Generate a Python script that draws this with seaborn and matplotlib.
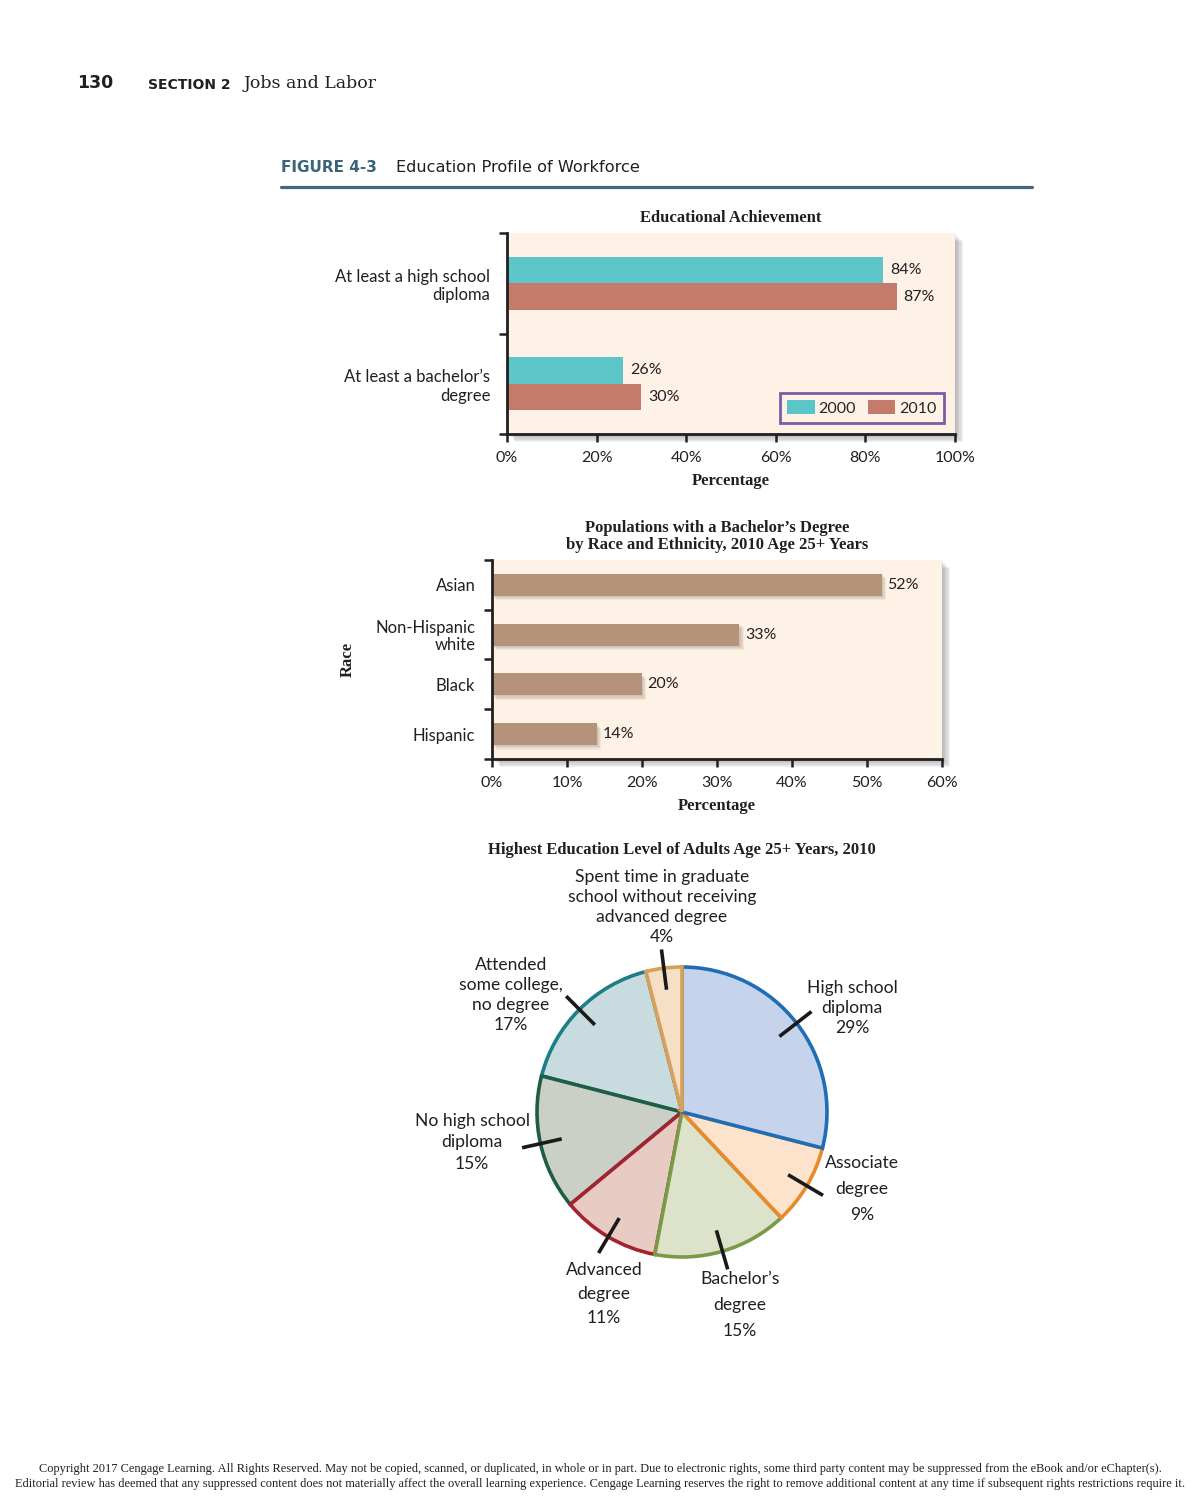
import matplotlib
matplotlib.use("Agg")
import matplotlib.pyplot as plt
import matplotlib.patheffects as pe
import numpy as np
import pandas as pd
import seaborn as sns

# === Données ===
niveaux = ["At least a high school\ndiploma", "At least a bachelor\u2019s\ndegree"]
annees = ["2000", "2010"]
pct_2000 = [84, 26]
pct_2010 = [87, 30]

races = ["Asian", "Non-Hispanic\nwhite", "Black", "Hispanic"]
pct_races = [52, 33, 20, 14]

pie_labels = ["High school\ndiploma\n29%", "Associate\ndegree\n9%", "Bachelor\u2019s\ndegree\n15%",
              "Advanced\ndegree\n11%", "No high school\ndiploma\n15%",
              "Attended\nsome college,\nno degree\n17%",
              "Spent time in graduate\nschool without receiving\nadvanced degree\n4%"]
pie_values = [29, 9, 15, 11, 15, 17, 4]

# === Style ===
sns.set_style("ticks")
plt.rcParams["font.family"] = ["Lato", "DejaVu Sans"]
TXT = "#231F20"
FOND = "#FEF1E6"
SERIF = "Liberation Serif"


def fx(x):
    return x / 1200


def fy(y):
    return 1 - y / 1500


def ombre(patch, dx=1.0, a=0.05, n=6, col="black"):
    # ombre portée douce : plusieurs couches décalées
    effets = [pe.SimplePatchShadow(offset=(dx * k, -dx * k), shadow_rgbFace=col, alpha=a) for k in range(n, 0, -1)]
    patch.set_path_effects(effets + [pe.Normal()])


def style_axe(ax):
    for s in ["top", "right"]:
        ax.spines[s].set_visible(False)
    for s in ["left", "bottom"]:
        ax.spines[s].set_linewidth(2.0)
        ax.spines[s].set_color(TXT)
    ax.set_facecolor(FOND)
    ombre(ax.patch)
    ax.tick_params(axis="x", length=6, width=1.8, color=TXT, labelsize=11.5, labelcolor=TXT, pad=6)
    ax.tick_params(axis="y", which="major", length=0, labelsize=12, labelcolor=TXT, pad=12)
    ax.tick_params(axis="y", which="minor", length=6, width=1.8, color=TXT)


fig = plt.figure(figsize=(12, 15), dpi=100)

# === En-tête ===
fig.text(fx(77), fy(83), "130", fontsize=12.5, fontweight="bold", family="DejaVu Sans", color=TXT, va="center")
fig.text(fx(148), fy(85), "SECTION 2", fontsize=10, fontweight="bold", family="DejaVu Sans", color=TXT, va="center")
fig.text(fx(243), fy(84), "Jobs and Labor", fontsize=12.5, family="DejaVu Serif", color=TXT, va="center")
fig.text(fx(281), fy(168), "FIGURE 4-3", fontsize=11, fontweight="bold", family="DejaVu Sans", color="#3B6478", va="center")
fig.text(fx(396), fy(168), "Education Profile of Workforce", fontsize=11.6, family="DejaVu Sans", color=TXT, va="center")
fig.add_artist(plt.Line2D([fx(281), fx(1032)], [fy(187), fy(187)], color="#46687A", lw=2.3))

# === Graphique 1 : Educational Achievement ===
df1 = pd.DataFrame({"niveau": niveaux * 2,
                    "pct": pct_2000 + pct_2010,
                    "annee": [annees[0]] * 2 + [annees[1]] * 2})
ax1 = fig.add_axes([fx(507), fy(434), 448 / 1200, 201 / 1500])
sns.barplot(data=df1, y="niveau", x="pct", hue="annee", palette=["#5BC5C8", "#C47B6B"],
            width=0.53, saturation=1, errorbar=None, linewidth=0, ax=ax1)
ax1.set_xlim(0, 100)
ax1.set_ylim(1.5, -0.5)
ax1.set_xticks(range(0, 101, 20))
ax1.set_xticklabels([f"{v}%" for v in range(0, 101, 20)])
ax1.set_yticks([0, 1])
ax1.set_yticklabels(niveaux, linespacing=1.2)
ax1.set_yticks([-0.5, 0.5, 1.5], minor=True)
style_axe(ax1)
for cont in ax1.containers:
    ax1.bar_label(cont, labels=[f"{int(v)}%" for v in cont.datavalues], padding=5, fontsize=11.5, color=TXT)
ax1.set_ylabel("")
ax1.set_xlabel("Percentage", family=SERIF, fontweight="bold", fontsize=12, color=TXT, labelpad=6)
ax1.set_title("Educational Achievement", family=SERIF, fontweight="bold", fontsize=12, color=TXT, pad=8)
leg = ax1.legend(title=None, loc="lower right", ncol=2, frameon=True, fancybox=False, fontsize=11.5,
                 edgecolor="#7B5CA8", facecolor=FOND, framealpha=1, borderaxespad=0.7,
                 handlelength=1.7, handleheight=0.95, columnspacing=0.75, handletextpad=0.25,
                 borderpad=0.45)
leg.get_frame().set_linewidth(2)

# === Graphique 2 : Bachelor's Degree by Race ===
ax2 = fig.add_axes([fx(492), fy(759), 450 / 1200, 199 / 1500])
sns.barplot(x=pct_races, y=races, color="#B5937A", width=0.44, saturation=1, linewidth=0, ax=ax2)
ax2.set_xlim(0, 60)
ax2.set_ylim(3.5, -0.5)
ax2.set_xticks(range(0, 61, 10))
ax2.set_xticklabels([f"{v}%" for v in range(0, 61, 10)])
ax2.set_yticks(range(len(races)))
ax2.set_yticklabels(races, linespacing=1.1)
ax2.set_yticks([-0.5, 0.5, 1.5, 2.5, 3.5], minor=True)
style_axe(ax2)
for bar in ax2.patches:
    ombre(bar, dx=0.8, a=0.07, n=4, col="#4a3a2a")
ax2.bar_label(ax2.containers[0], labels=[f"{v}%" for v in pct_races], padding=4, fontsize=11.5, color=TXT)
ax2.set_ylabel("Race", family=SERIF, fontweight="bold", fontsize=12, color=TXT, labelpad=14)
ax2.set_xlabel("Percentage", family=SERIF, fontweight="bold", fontsize=12, color=TXT, labelpad=6)
ax2.set_title("Populations with a Bachelor\u2019s Degree\nby Race and Ethnicity, 2010 Age 25+ Years",
              family=SERIF, fontweight="bold", fontsize=12, color=TXT, pad=8, linespacing=1.1)

# === Graphique 3 : camembert ===
remplis = ["#C5D3EC", "#FDE3CB", "#DDE3CB", "#E8CBC3", "#CBD0C6", "#C8DCE0", "#F5DFC5"]
bords = ["#1F6DB5", "#E8892B", "#7A9A48", "#A3232E", "#1E5E44", "#1A7F86", "#D8A05A"]
R_PX = 145
ax3 = fig.add_axes([fx(382), fy(1412), 600 / 1200, 600 / 1500])
wedges, _ = ax3.pie(pie_values, startangle=90, counterclock=False, colors=remplis, radius=1,
                    wedgeprops=dict(linewidth=2.6))
for i, (w, c) in enumerate(zip(wedges, bords)):
    w.set_edgecolor(c)
    w.set_zorder(10 - i)
wedges[-1].set_zorder(11)
lim = 300 / R_PX
ax3.set_xlim(-lim, lim)
ax3.set_ylim(-lim, lim)
ax3.set_aspect("equal")
ax3.axis("off")

pos_labels = [(1.172, 0.717), (1.241, -0.531), (0.40, -1.331), (-0.538, -1.255),
              (-1.448, -0.21), (-1.179, 0.807), (-0.138, 1.415)]
espacements = [1.3, 1.75, 1.75, 1.65, 1.4, 1.3, 1.3]
for w, lab, (tx, ty), ls in zip(wedges, pie_labels, pos_labels, espacements):
    ang = np.deg2rad((w.theta1 + w.theta2) / 2)
    ax3.plot([0.85 * np.cos(ang), 1.13 * np.cos(ang)], [0.85 * np.sin(ang), 1.13 * np.sin(ang)],
             color="#1A1A1A", lw=2.6, solid_capstyle="butt", zorder=20)
    ax3.text(tx, ty, lab, ha="center", va="center", fontsize=12.6, color=TXT, linespacing=ls)
fig.text(fx(682), fy(850), "Highest Education Level of Adults Age 25+ Years, 2010", family=SERIF,
         fontweight="bold", fontsize=12, color=TXT, ha="center", va="center")

# === Pied de page ===
fig.text(0.5, fy(1469), "Copyright 2017 Cengage Learning. All Rights Reserved. May not be copied, scanned, or duplicated, "
         "in whole or in part. Due to electronic rights, some third party content may be suppressed from the eBook and/or eChapter(s).",
         ha="center", va="center", fontsize=8.95, family=SERIF, color=TXT)
fig.text(0.5, fy(1484), "Editorial review has deemed that any suppressed content does not materially affect the overall "
         "learning experience. Cengage Learning reserves the right to remove additional content at any time if subsequent rights restrictions require it.",
         ha="center", va="center", fontsize=8.95, family=SERIF, color=TXT)

fig.savefig("out.png", dpi=100)
plt.close(fig)
